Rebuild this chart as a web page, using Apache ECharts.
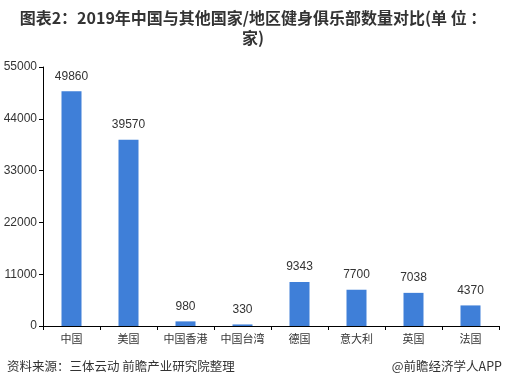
<!DOCTYPE html>
<html><head><meta charset="utf-8">
<script src="https://cdn.jsdelivr.net/npm/echarts@6/dist/echarts.min.js"></script>
<style>html,body{margin:0;padding:0;background:#fff}#c{width:506px;height:391px}</style>
</head><body><div id="c"></div>
<script>
var categories = ['中国','美国','中国香港','中国台湾','德国','意大利','英国','法国'];
var values = [49860,39570,980,330,9343,7700,7038,4370];
var yTicks = [0,11000,22000,33000,44000,55000];
var titleLine1 = '图表2：2019年中国与其他国家/地区健身俱乐部数量对比(单 位 ：';
var titleLine2 = '家)';
var sourceText = '资料来源：三体云动 前瞻产业研究院整理';
var brandText = '@前瞻经济学人APP';

var chart = echarts.init(document.getElementById('c'), null, {renderer:'canvas'});
var tf = {fontSize:16,fontWeight:'bold',fill:'#333',fontFamily:'Noto Sans CJK SC',textAlign:'center',textVerticalAlign:'middle'};
chart.setOption({
  animation:false,
  backgroundColor:'#fff',
  graphic:[
    {type:'text',x:253,y:18,style:Object.assign({text:titleLine1},tf)},
    {type:'text',x:253,y:38,style:Object.assign({text:titleLine2},tf)},
    {type:'text',left:7,top:360,style:{text:sourceText,fontSize:12.5,fill:'#333',fontFamily:'Noto Sans CJK SC'}},
    {type:'text',right:4,top:360,style:{text:brandText,fontSize:12.5,fill:'#333',fontFamily:'Noto Sans CJK SC'}}
  ],
  grid:{left:43,right:7,top:67,bottom:65},
  xAxis:{type:'category',data:categories,
    axisLine:{lineStyle:{color:'#000'}},
    axisTick:{show:true,lineStyle:{color:'#000'},length:4},
    axisLabel:{color:'#333',fontSize:11,margin:7,interval:0,fontFamily:'Noto Sans CJK SC'}},
  yAxis:{type:'value',min:yTicks[0],max:yTicks[yTicks.length-1],interval:11000,
    splitLine:{show:false},
    axisLine:{show:true,lineStyle:{color:'#000'}},
    axisTick:{show:true,lineStyle:{color:'#000'},length:4},
    axisLabel:{color:'#333',fontSize:12,margin:6,fontFamily:'Liberation Sans',formatter:function(v){return String(v);}}},
  series:[{type:'bar',data:values,barWidth:20,
    itemStyle:{color:'#3f7fd8'},
    label:{show:true,position:'top',color:'#333',fontSize:12,distance:9,fontFamily:'Liberation Sans',formatter:function(p){return String(p.value);}}}]
});
</script></body></html>
